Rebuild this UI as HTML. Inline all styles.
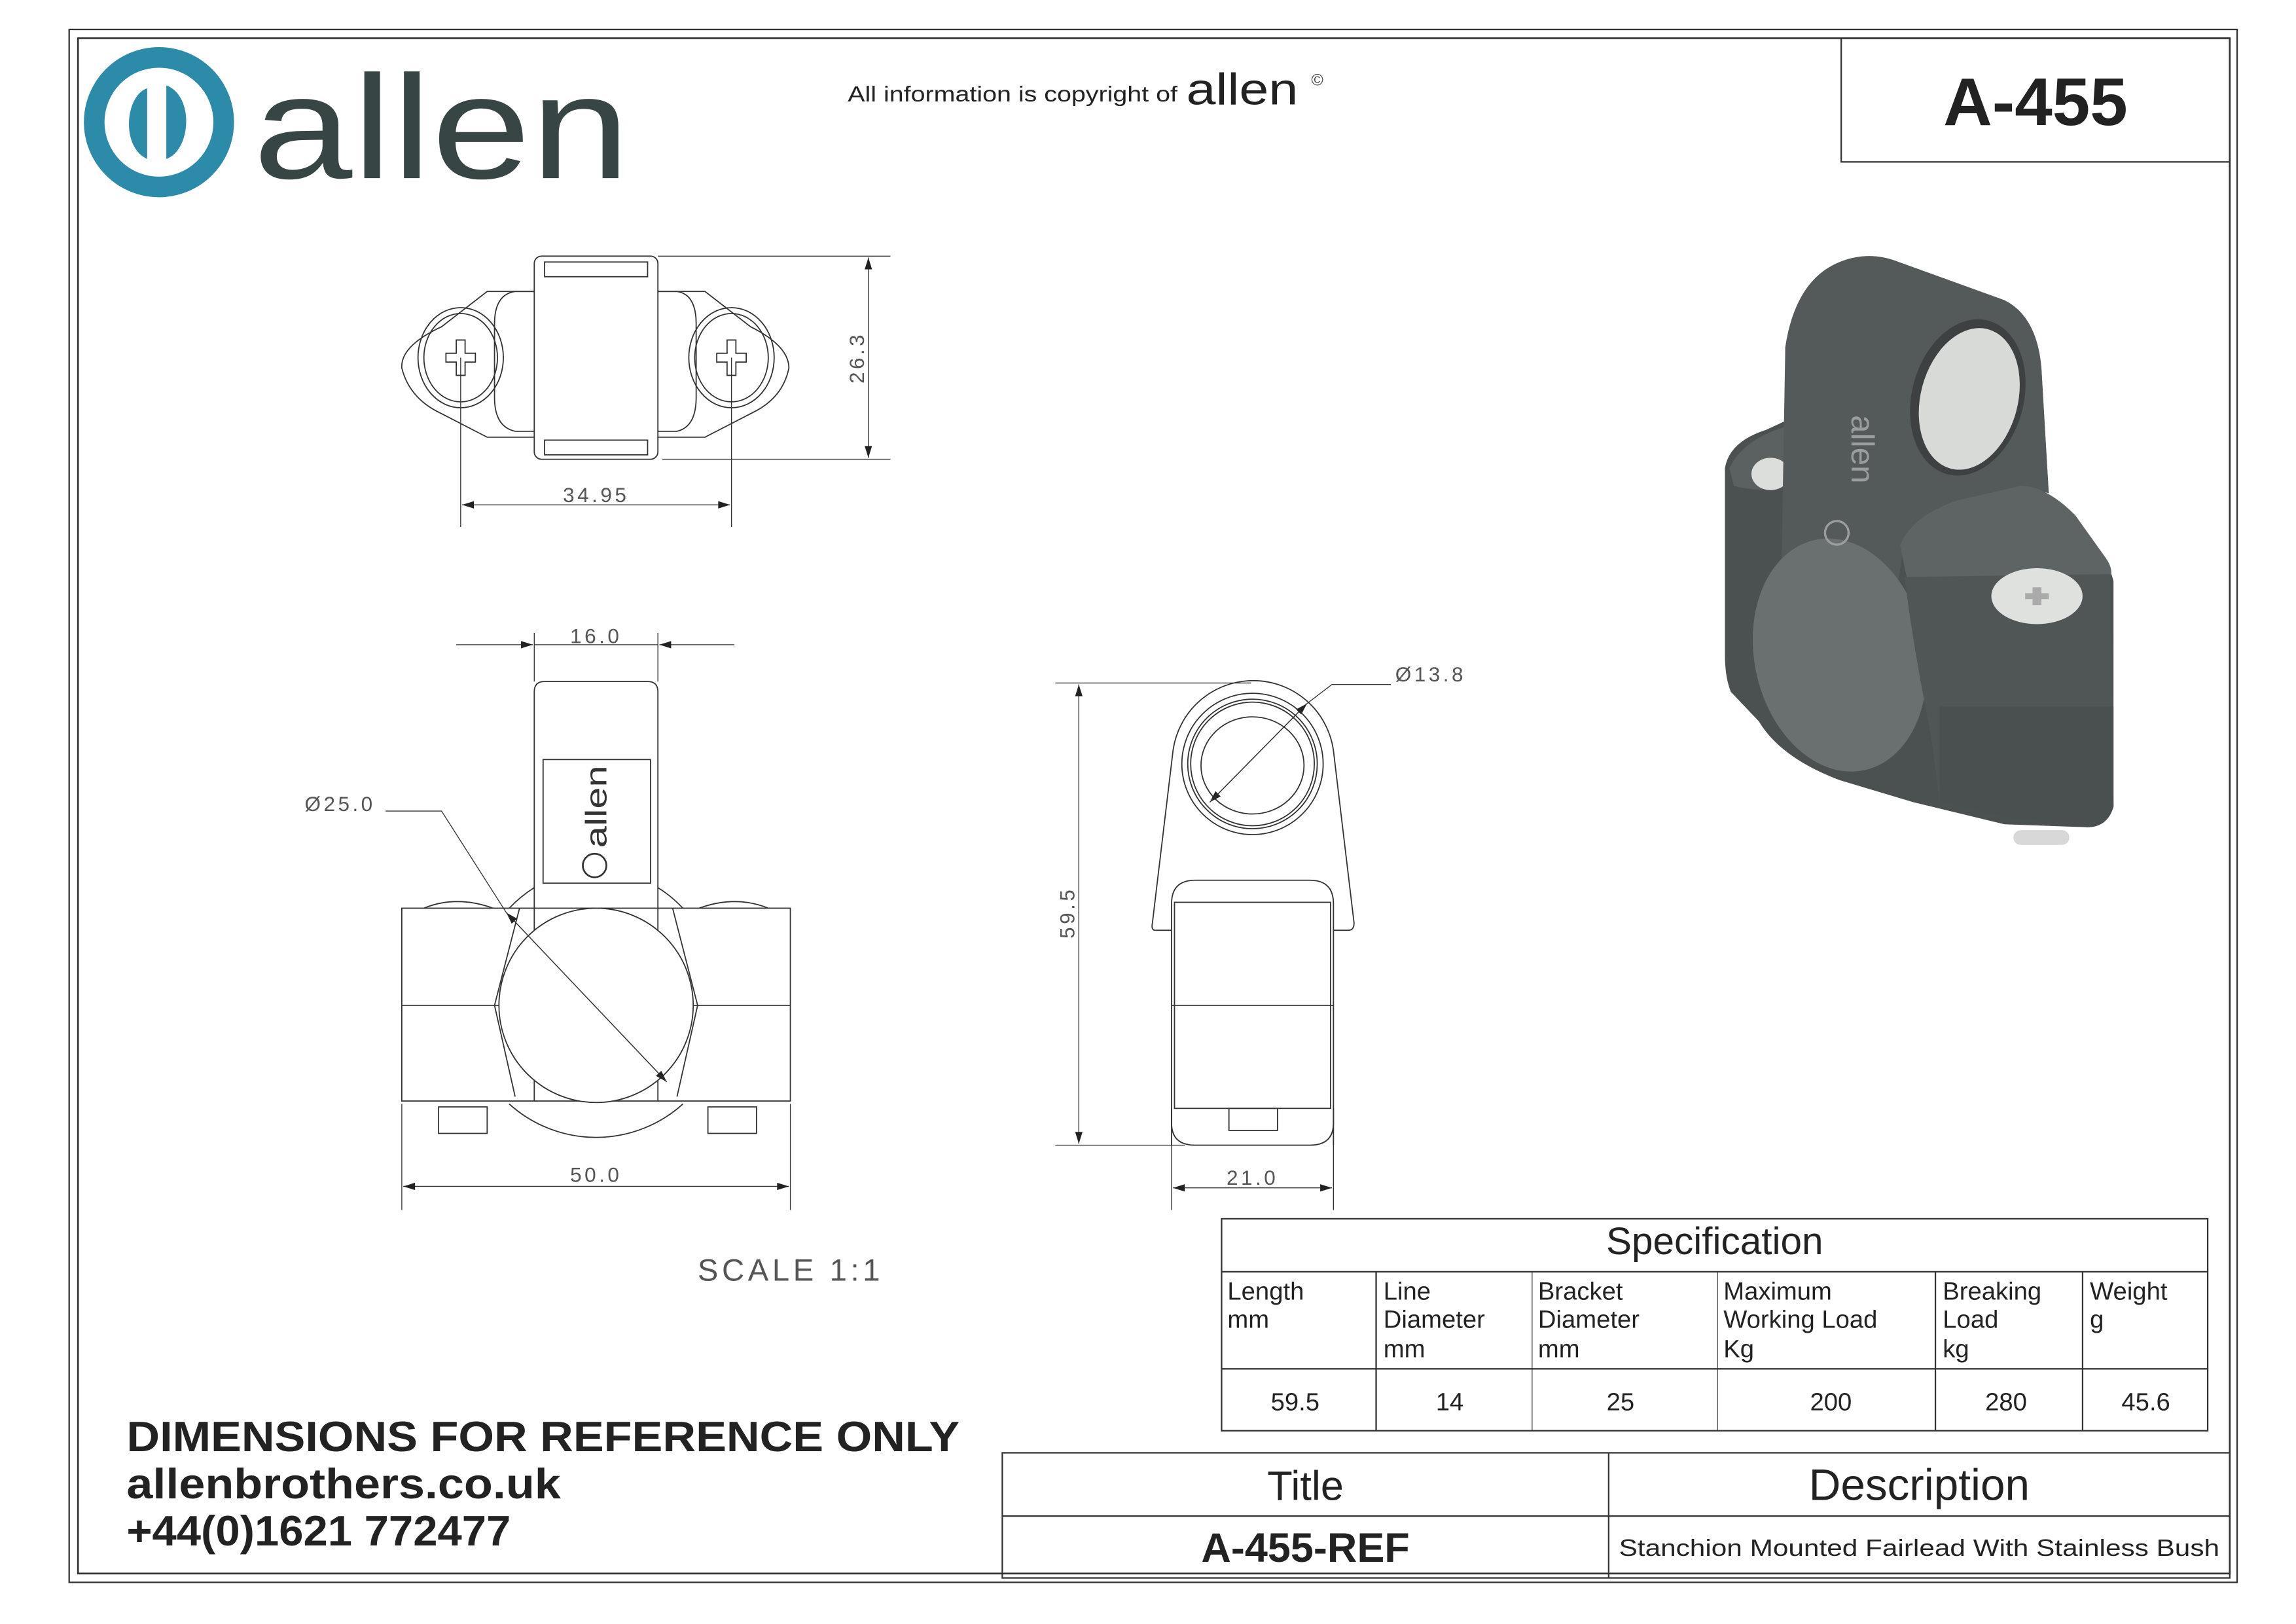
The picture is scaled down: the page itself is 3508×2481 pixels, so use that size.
<!DOCTYPE html>
<html><head><meta charset="utf-8"><style>
html,body{margin:0;padding:0;background:#fff;}
svg{display:block;}
text{font-family:"Liberation Sans",sans-serif;}
.d{font-family:"Liberation Sans Narrow","Liberation Sans",sans-serif;fill:#555;}
</style></head><body>
<svg width="3508" height="2481" viewBox="0 0 1560 1103.3" preserveAspectRatio="none" xmlns="http://www.w3.org/2000/svg">
<defs>
<marker id="b" viewBox="0 0 16 10" refX="16" refY="5" markerWidth="14" markerHeight="5" orient="auto-start-reverse" markerUnits="userSpaceOnUse"><path d="M0,0L16,5L0,10z" fill="#222"/></marker>
</defs>
<rect width="1560" height="1104" fill="#fff"/>
<!-- frames -->
<rect x="47" y="20" width="1473" height="1055" fill="none" stroke="#333" stroke-width="1"/>
<rect x="53" y="26" width="1462" height="1043" fill="none" stroke="#333" stroke-width="1.2"/>
<rect x="1251" y="26" width="264" height="84" fill="none" stroke="#333" stroke-width="1"/>
<text x="1383" y="85" font-size="46" font-weight="bold" text-anchor="middle" fill="#222">A-455</text>

<!-- logo -->
<circle cx="108" cy="83" r="44" fill="none" stroke="#2b8ba8" stroke-width="14"/>
<path d="M100,60 C85,65 82,100 100,108 L100,60z" fill="#2b8ba8"/>
<path d="M113,58 L113,108 C130,102 132,65 113,58z" fill="#2b8ba8"/>
<text x="172" y="121" font-size="100" fill="#374545" textLength="256" lengthAdjust="spacingAndGlyphs">allen</text>
<text x="576" y="69" font-size="15" fill="#222" textLength="224" lengthAdjust="spacingAndGlyphs">All information is copyright of</text>
<text x="806" y="71" font-size="30" fill="#222" textLength="76" lengthAdjust="spacingAndGlyphs">allen</text>
<text x="895" y="58" font-size="11" fill="#444" text-anchor="middle">©</text>

<!-- TOP VIEW -->
<g fill="none" stroke="#333" stroke-width="0.8">
<rect x="363" y="174" width="84" height="138" rx="5"/>
<rect x="370" y="178" width="70" height="10"/>
<rect x="370" y="299" width="70" height="10"/>
<path d="M363,198 L350,198 Q336,200 336,220 L336,270 Q336,290 350,293 L363,293"/>
<path d="M447,198 L460,198 Q473,200 473,220 L473,270 Q473,290 460,293 L447,293"/>
<path d="M363,198 L331,198 L300,222 Q272,235 273,250 Q278,270 298,280 L331,297 L363,297"/>
<path d="M447,198 L479,198 L510,222 Q536,235 536,250 Q532,270 512,280 L479,297 L447,297"/>
<ellipse cx="313" cy="243" rx="29" ry="34"/><ellipse cx="313" cy="243" rx="25" ry="30"/>
<ellipse cx="497" cy="243" rx="29" ry="34"/><ellipse cx="497" cy="243" rx="25" ry="30"/>
<path d="M310,231h6v9h7v6h-7v9h-6v-9h-7v-6h7z"/>
<path d="M494,231h6v9h7v6h-7v9h-6v-9h-7v-6h7z"/>
</g>
<g stroke="#333" stroke-width="0.6" fill="none">
<line x1="447" y1="174" x2="605" y2="174"/><line x1="450" y1="312" x2="605" y2="312"/>
<line x1="590" y1="175" x2="590" y2="311" marker-start="url(#b)" marker-end="url(#b)"/>
<line x1="313" y1="243" x2="313" y2="358"/><line x1="497" y1="243" x2="497" y2="358"/>
<line x1="314" y1="343" x2="496" y2="343" marker-start="url(#b)" marker-end="url(#b)"/>
</g>
<text class="d" x="405" y="341" font-size="14" text-anchor="middle" letter-spacing="2">34.95</text>
<text class="d" x="0" y="0" font-size="14" text-anchor="middle" letter-spacing="2" transform="translate(587,243) rotate(-90)">26.3</text>

<!-- FRONT VIEW -->
<g fill="none" stroke="#333" stroke-width="0.8">
<rect x="273" y="617" width="264" height="131"/>
<line x1="273" y1="683" x2="537" y2="683"/>
<path d="M363,748 V470 Q363,463 370,463 H440 Q447,463 447,470 V748"/>
<rect x="369" y="516" width="73" height="84"/>
<path d="M353,617 L336,683 L350,745"/><path d="M457,617 L474,683 L460,745"/>
<circle cx="405" cy="683" r="66" fill="#fff"/>
<path d="M346,750 A88,88 0 0 0 464,750"/>
<path d="M346,617 A88,88 0 0 1 363,603"/><path d="M464,617 A88,88 0 0 0 447,603"/>
<rect x="298" y="752" width="33" height="18"/><rect x="481" y="752" width="33" height="18"/>
<path d="M288,617 Q310,608 335,617"/><path d="M475,617 Q500,608 522,617"/>
</g>
<text x="0" y="0" font-size="20" fill="#333" transform="translate(412,576) rotate(-90)" textLength="56" lengthAdjust="spacingAndGlyphs">allen</text>
<circle cx="404" cy="588" r="8" fill="none" stroke="#333" stroke-width="1.2"/>
<g stroke="#333" stroke-width="0.6" fill="none">
<line x1="363" y1="430" x2="363" y2="463"/><line x1="447" y1="430" x2="447" y2="463"/>
<line x1="310" y1="438" x2="362" y2="438" marker-end="url(#b)"/>
<line x1="499" y1="438" x2="448" y2="438" marker-end="url(#b)"/>
<line x1="363" y1="438" x2="447" y2="438"/>
<polyline points="262,551 300,551 344,620"/>
<line x1="344" y1="620" x2="453" y2="735" marker-end="url(#b)"/>
<line x1="453" y1="735" x2="344" y2="620" marker-end="url(#b)"/>
<line x1="273" y1="750" x2="273" y2="822"/><line x1="537" y1="750" x2="537" y2="822"/>
<line x1="274" y1="806" x2="536" y2="806" marker-start="url(#b)" marker-end="url(#b)"/>
</g>
<text class="d" x="405" y="437" font-size="14" text-anchor="middle" letter-spacing="2">16.0</text>
<text class="d" x="207" y="551" font-size="14" letter-spacing="2">Ø25.0</text>
<text class="d" x="405" y="803" font-size="14" text-anchor="middle" letter-spacing="2">50.0</text>
<text class="d" x="474" y="870" font-size="21" letter-spacing="2.5" fill="#777">SCALE  1:1</text>

<!-- SIDE VIEW -->
<g fill="none" stroke="#333" stroke-width="0.8">
<path d="M785,632 Q782,632 783,627 L797,510 A55,55 0 0 1 906,510 L920,627 Q920,632 916,632 L906,632"/>
<line x1="785" y1="632" x2="796" y2="632"/>
<circle cx="851" cy="519" r="48"/><circle cx="851" cy="519" r="44"/><circle cx="851" cy="519" r="42"/>
<ellipse cx="851" cy="520" rx="35" ry="33"/>
<path d="M796,778 V614 Q796,598 812,598 H890 Q906,598 906,614 V778"/>
<rect x="798" y="613" width="106" height="140"/>
<line x1="796" y1="683" x2="906" y2="683"/>
<path d="M796,753 V763 Q796,778 812,778 H890 Q906,778 906,763 V753"/>
<rect x="835" y="753" width="33" height="15"/>
</g>
<g stroke="#333" stroke-width="0.6" fill="none">
<line x1="717" y1="464" x2="850" y2="464"/><line x1="717" y1="778" x2="805" y2="778"/>
<line x1="733" y1="465" x2="733" y2="777" marker-start="url(#b)" marker-end="url(#b)"/>
<polyline points="945,465 905,465 888,478"/>
<line x1="888" y1="478" x2="822" y2="545" marker-end="url(#b)"/>
<line x1="822" y1="545" x2="888" y2="478" marker-end="url(#b)"/>
<line x1="796" y1="778" x2="796" y2="822"/><line x1="906" y1="778" x2="906" y2="822"/>
<line x1="797" y1="807" x2="905" y2="807" marker-start="url(#b)" marker-end="url(#b)"/>
</g>
<text class="d" x="948" y="463" font-size="14" letter-spacing="2">Ø13.8</text>
<text class="d" x="851" y="805" font-size="14" text-anchor="middle" letter-spacing="2">21.0</text>
<text class="d" x="0" y="0" font-size="14" text-anchor="middle" letter-spacing="2" transform="translate(730,620) rotate(-90)">59.5</text>

<!-- 3D RENDER -->
<g>
<path d="M1172,318 Q1175,300 1200,292 L1213,286 L1213,236 Q1220,190 1250,178 Q1270,170 1290,178 L1362,204 Q1384,215 1387,250 L1392,335 L1373,330 Q1360,334 1358,340 L1420,372 Q1432,378 1436,395 L1436,548 Q1432,562 1418,562 L1362,560 L1300,545 L1250,530 Q1210,515 1195,490 L1176,470 Q1172,460 1172,445 z" fill="#4b5050"/>
<path d="M1175,318 Q1185,298 1213,290 L1213,330 Q1195,335 1178,330z" fill="#5b6060"/>
<ellipse cx="1203" cy="322" rx="13" ry="11" fill="#dcdedc"/>
<path d="M1213,236 Q1220,190 1250,178 Q1270,170 1290,178 L1362,204 Q1384,215 1387,250 L1392,335 L1373,330 Q1300,350 1292,380 L1288,408 L1230,400 Q1218,402 1210,410z" fill="#545959"/>
<ellipse cx="1337" cy="270" rx="38" ry="54" transform="rotate(15 1337 270)" fill="#3d4141"/>
<ellipse cx="1338" cy="271" rx="33" ry="49" transform="rotate(15 1338 271)" fill="#d8dad8"/>
<ellipse cx="1250" cy="445" rx="58" ry="80" transform="rotate(-12 1250 445)" fill="#6a6f6f"/>
<path d="M1291,370 Q1300,350 1330,340 L1373,330 Q1390,330 1410,350 L1430,378 Q1436,386 1434,392 L1296,395z" fill="#5e6363"/>
<path d="M1294,392 L1434,390 L1436,548 Q1432,562 1418,562 L1362,555 L1318,545 L1312,500 Q1300,440 1294,392z" fill="#505555"/>
<path d="M1318,480 L1436,480 L1436,548 Q1432,562 1418,562 L1362,555 L1318,545z" fill="#4a4f4f"/>
<ellipse cx="1384" cy="405" rx="31" ry="19" fill="#dfe1df"/>
<path d="M1381,399h6v4h5v4h-5v4h-6v-4h-5v-4h5z" fill="#aaa"/>
<rect x="1368" y="564" width="38" height="10" rx="5" fill="#d8d8d8"/>
<text x="0" y="0" font-size="22" fill="#9a9e9e" transform="translate(1258,282) rotate(90)">allen</text>
<circle cx="1248" cy="362" r="8" fill="none" stroke="#9a9e9e" stroke-width="1.5"/>
</g>

<!-- SPEC TABLE -->
<g stroke="#333" stroke-width="1" fill="none">
<rect x="830" y="828" width="670" height="144"/>
<line x1="830" y1="864" x2="1500" y2="864"/><line x1="830" y1="930" x2="1500" y2="930"/>
<line x1="935" y1="864" x2="935" y2="972"/><line x1="1041" y1="864" x2="1041" y2="972" stroke-width="0.5"/>
<line x1="1167" y1="864" x2="1167" y2="972" stroke-width="0.5"/><line x1="1315" y1="864" x2="1315" y2="972"/>
<line x1="1415" y1="864" x2="1415" y2="972"/>
</g>
<g fill="#222" font-size="17">
<text x="1165" y="852" font-size="26" text-anchor="middle">Specification</text>
<text x="834" y="883">Length</text><text x="834" y="902">mm</text>
<text x="940" y="883">Line</text><text x="940" y="902">Diameter</text><text x="940" y="922">mm</text>
<text x="1045" y="883">Bracket</text><text x="1045" y="902">Diameter</text><text x="1045" y="922">mm</text>
<text x="1171" y="883">Maximum</text><text x="1171" y="902">Working Load</text><text x="1171" y="922">Kg</text>
<text x="1320" y="883">Breaking</text><text x="1320" y="902">Load</text><text x="1320" y="922">kg</text>
<text x="1420" y="883">Weight</text><text x="1420" y="902">g</text>
<text x="880" y="958" text-anchor="middle">59.5</text><text x="985" y="958" text-anchor="middle">14</text>
<text x="1101" y="958" text-anchor="middle">25</text><text x="1244" y="958" text-anchor="middle">200</text>
<text x="1363" y="958" text-anchor="middle">280</text><text x="1458" y="958" text-anchor="middle">45.6</text>
</g>

<!-- TITLE TABLE -->
<g stroke="#333" stroke-width="1" fill="none">
<rect x="681" y="987" width="834" height="85"/>
<line x1="681" y1="1030" x2="1515" y2="1030"/><line x1="1093" y1="987" x2="1093" y2="1072"/>
</g>
<text x="887" y="1019" font-size="28" text-anchor="middle" fill="#222">Title</text>
<text x="1304" y="1019" font-size="30" text-anchor="middle" fill="#222">Description</text>
<text x="887" y="1061" font-size="28" font-weight="bold" text-anchor="middle" fill="#222">A-455-REF</text>
<text x="1100" y="1057" font-size="16" fill="#222" textLength="408" lengthAdjust="spacingAndGlyphs">Stanchion Mounted Fairlead With Stainless Bush</text>

<!-- bottom left -->
<g fill="#222" font-weight="bold">
<text x="86" y="986" font-size="29" textLength="566" lengthAdjust="spacingAndGlyphs">DIMENSIONS FOR REFERENCE ONLY</text>
<text x="86" y="1018" font-size="29" textLength="295" lengthAdjust="spacingAndGlyphs">allenbrothers.co.uk</text>
<text x="86" y="1050" font-size="29" textLength="261" lengthAdjust="spacingAndGlyphs">+44(0)1621 772477</text>
</g>
</svg>
</body></html>
